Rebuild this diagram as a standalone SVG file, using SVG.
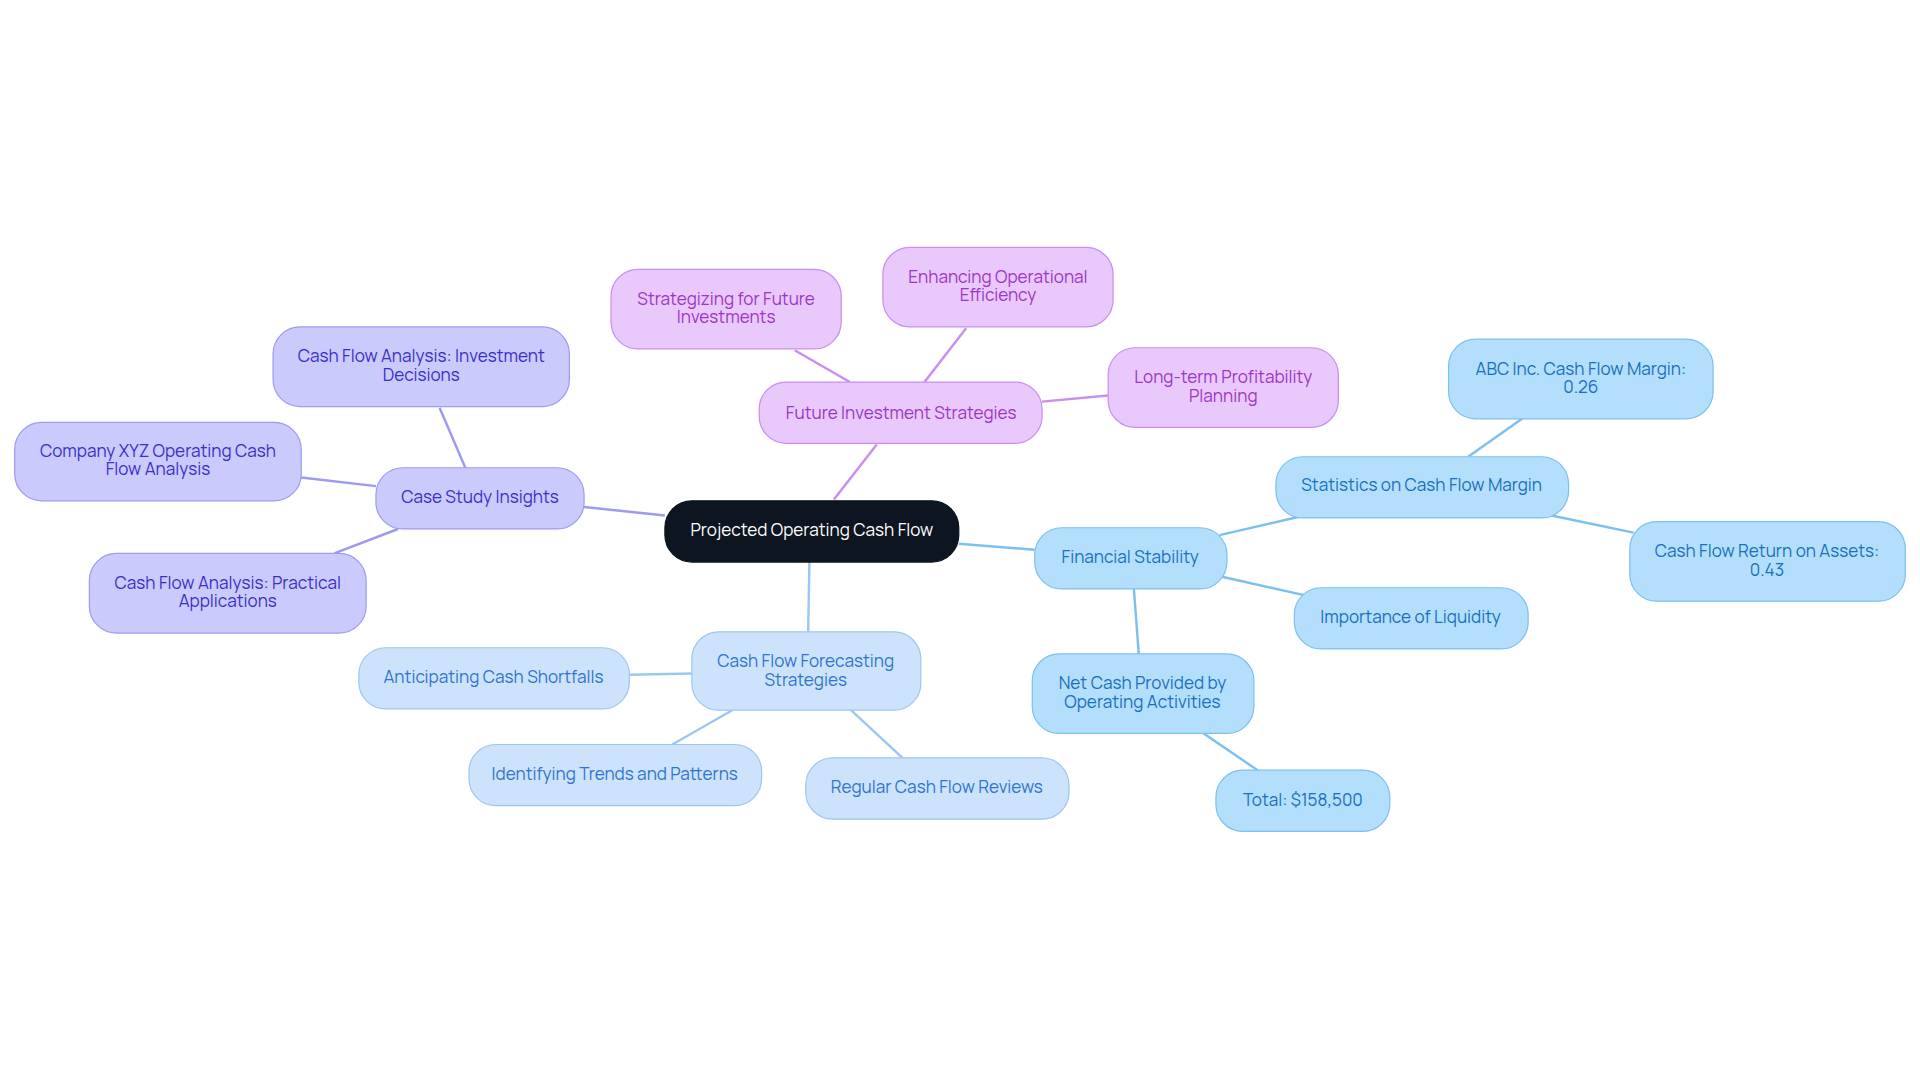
<svg xmlns="http://www.w3.org/2000/svg" width="1920" height="1083" viewBox="0 0 1920 1083">
<style>
text{font-family:"Manrope","Inter","Liberation Sans",sans-serif;font-size:14px;text-anchor:middle}
.c rect{fill:#0d1520;stroke:#0d1520}.c text{fill:#fff}
.p rect{fill:#e9c8fb;stroke:#c98ef0}.p text{fill:#9b36c8}
.i rect{fill:#cbcafc;stroke:#9d9af0}.i text{fill:#3a2fc8}
.l rect{fill:#cde3fb;stroke:#9cc7f2}.l text{fill:#2f74d0}
.s rect{fill:#b3dffc;stroke:#7cc0f0}.s text{fill:#1a6fbf}
#edges line{stroke-width:2}
</style>
<rect width="1920" height="1083" fill="#fff"/>
<g transform="scale(1.2245)">
<g id="edges">
<g stroke="#c98ef0"><line x1="681" y1="408" x2="716" y2="363"/><line x1="694" y1="312" x2="649" y2="286"/><line x1="755" y1="312" x2="789" y2="268"/><line x1="851" y1="328" x2="905" y2="323"/></g>
<g stroke="#9d9af0"><line x1="543" y1="421" x2="477" y2="414"/><line x1="380" y1="382" x2="359" y2="333"/><line x1="307" y1="397" x2="246" y2="390"/><line x1="325" y1="432" x2="273" y2="452"/></g>
<g stroke="#9cc7f2"><line x1="661" y1="459" x2="660" y2="516"/><line x1="565" y1="550" x2="514" y2="551"/><line x1="598" y1="580" x2="549" y2="608"/><line x1="695" y1="580" x2="737" y2="619"/></g>
<g stroke="#7cc0f0"><line x1="783" y1="444" x2="845" y2="449"/><line x1="996" y1="437" x2="1061" y2="422"/><line x1="1199" y1="373" x2="1243" y2="342"/><line x1="1267" y1="421" x2="1334" y2="435"/><line x1="998" y1="471" x2="1065" y2="486"/><line x1="926" y1="481" x2="930" y2="534"/><line x1="983" y1="599" x2="1027" y2="629"/></g>
</g>
<g id="center" class="c"><rect x="543" y="409" width="240" height="50" rx="22"/><text x="663" y="438">Projected Operating Cash Flow</text></g>
<g id="fis" class="p"><rect x="620" y="312" width="231" height="50" rx="22"/><text x="736" y="342">Future Investment Strategies</text></g>
<g id="strat" class="p"><rect x="499" y="220" width="188" height="65" rx="22"/><text x="593" y="249">Strategizing for Future</text><text x="593" y="264">Investments</text></g>
<g id="enh" class="p"><rect x="721" y="202" width="188" height="65" rx="22"/><text x="815" y="231">Enhancing Operational</text><text x="815" y="246">Efficiency</text></g>
<g id="long" class="p"><rect x="905" y="284" width="188" height="65" rx="22"/><text x="999" y="313">Long-term Profitability</text><text x="999" y="328">Planning</text></g>
<g id="csi" class="i"><rect x="307" y="382" width="170" height="50" rx="22"/><text x="392" y="411">Case Study Insights</text></g>
<g id="inv" class="i"><rect x="223" y="267" width="242" height="65" rx="22"/><text x="344" y="296">Cash Flow Analysis: Investment</text><text x="344" y="311">Decisions</text></g>
<g id="xyz" class="i"><rect x="12" y="345" width="234" height="64" rx="22"/><text x="129" y="373">Company XYZ Operating Cash</text><text x="129" y="388">Flow Analysis</text></g>
<g id="prac" class="i"><rect x="73" y="452" width="226" height="65" rx="22"/><text x="186" y="481">Cash Flow Analysis: Practical</text><text x="186" y="496">Applications</text></g>
<g id="cff" class="l"><rect x="565" y="516" width="187" height="64" rx="22"/><text x="658" y="545">Cash Flow Forecasting</text><text x="658" y="560">Strategies</text></g>
<g id="ant" class="l"><rect x="293" y="529" width="221" height="50" rx="22"/><text x="403" y="558">Anticipating Cash Shortfalls</text></g>
<g id="ident" class="l"><rect x="383" y="608" width="239" height="50" rx="22"/><text x="502" y="637">Identifying Trends and Patterns</text></g>
<g id="reg" class="l"><rect x="658" y="619" width="215" height="50" rx="22"/><text x="765" y="648">Regular Cash Flow Reviews</text></g>
<g id="fs" class="s"><rect x="845" y="431" width="157" height="50" rx="22"/><text x="923" y="460">Financial Stability</text></g>
<g id="stat" class="s"><rect x="1042" y="373" width="239" height="50" rx="22"/><text x="1161" y="401">Statistics on Cash Flow Margin</text></g>
<g id="abc" class="s"><rect x="1183" y="277" width="216" height="65" rx="22"/><text x="1291" y="306">ABC Inc. Cash Flow Margin:</text><text x="1291" y="321">0.26</text></g>
<g id="cfroa" class="s"><rect x="1331" y="426" width="225" height="65" rx="22"/><text x="1443" y="455">Cash Flow Return on Assets:</text><text x="1443" y="470">0.43</text></g>
<g id="imp" class="s"><rect x="1057" y="480" width="191" height="50" rx="22"/><text x="1152" y="509">Importance of Liquidity</text></g>
<g id="net" class="s"><rect x="843" y="534" width="181" height="65" rx="22"/><text x="933" y="563">Net Cash Provided by</text><text x="933" y="578">Operating Activities</text></g>
<g id="total" class="s"><rect x="993" y="629" width="142" height="50" rx="22"/><text x="1064" y="658">Total: $158,500</text></g>
</g>
</svg>
